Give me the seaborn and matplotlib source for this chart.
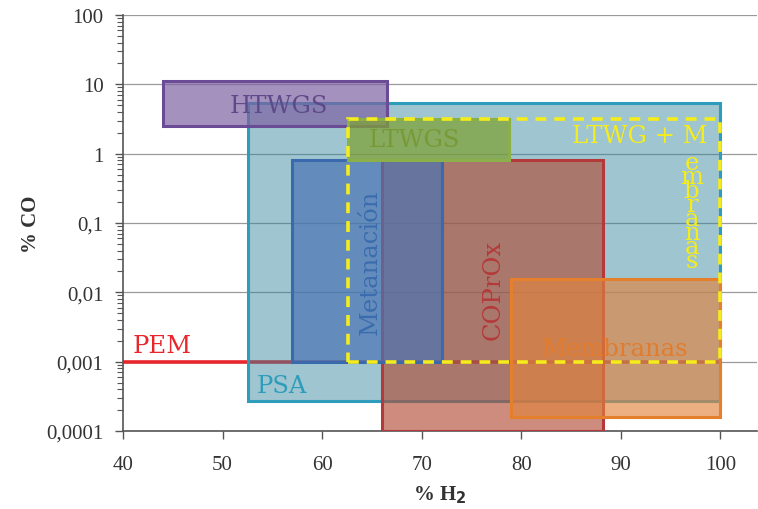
import matplotlib
matplotlib.use("Agg")
import matplotlib.pyplot as plt
import matplotlib.ticker as mticker
import seaborn as sns

# Operating windows of each purification technology: % H2 range and % CO range
names = ["PSA", "HTWGS", "COPrOx", "Metanación", "Membranas", "LTWGS"]
h2_low = [52.6, 44.0, 66.0, 57.0, 79.0, 62.6]
h2_high = [100.0, 66.5, 88.2, 72.0, 100.0, 78.8]
co_low = [0.00027, 2.5, 0.0001, 0.001, 0.00016, 0.82]
co_high = [5.3, 11.0, 0.8, 0.8, 0.0155, 3.2]

# Combined LTWGS + membrane window
combo_h2 = [62.6, 100.0]
combo_co = [0.001, 3.2]

# PEM fuel-cell CO tolerance
pem_co = 0.001
pem_h2 = [40.0, 100.0]

y_ticks = [0.0001, 0.001, 0.01, 0.1, 1, 10, 100]
y_tick_labels = ["0,0001", "0,001", "0,01", "0,1", "1", "10", "100"]
x_ticks = [40, 50, 60, 70, 80, 90, 100]

fills = {
    "PSA": "#31859c",
    "HTWGS": "#7e62a2",
    "Metanación": "#4a74b4",
    "COPrOx": "#b24e37",
    "Membranas": "#e1843f",
    "LTWGS": "#7fa138",
}
edges = {
    "PSA": "#2e9cbb",
    "HTWGS": "#6a4c96",
    "Metanación": "#3a6aad",
    "COPrOx": "#b3393a",
    "Membranas": "#e57f2c",
    "LTWGS": "#8bb04a",
}
alphas = {
    "PSA": 0.47,
    "HTWGS": 0.7,
    "Metanación": 0.7,
    "COPrOx": 0.65,
    "Membranas": 0.65,
    "LTWGS": 0.75,
}
yellow = "#f5ec1c"

sns.set_style("white")
plt.rcParams["font.family"] = ["Liberation Serif", "DejaVu Serif"]

fig = plt.figure(figsize=(7.58, 5.10), dpi=100)
ax = fig.add_axes([0.1623, 0.153, 0.8367, 0.8157])
ax.set_yscale("log")
ax.set_xlim(40, 103.7)
ax.set_ylim(0.0001, 100)

for y in y_ticks:
    ax.axhline(y, color="#9a9a9a", lw=0.9, zorder=0)

for i, n in enumerate(names):
    ax.bar(h2_low[i], co_high[i] - co_low[i], bottom=co_low[i],
           width=h2_high[i] - h2_low[i], align="edge",
           color=fills[n], alpha=alphas[n], edgecolor="none", zorder=2 + i)
    ax.bar(h2_low[i], co_high[i] - co_low[i], bottom=co_low[i],
           width=h2_high[i] - h2_low[i], align="edge",
           facecolor="none", edgecolor=edges[n], lw=2.2, zorder=2 + i)

ax.plot(pem_h2, [pem_co, pem_co], color="#e8262c", lw=2.6, zorder=1.5)

ax.bar(combo_h2[0], combo_co[1] - combo_co[0], bottom=combo_co[0],
       width=combo_h2[1] - combo_h2[0], align="edge", facecolor="none",
       edgecolor=yellow, lw=2.6, linestyle=(0, (3, 2.2)), zorder=20)

lab = dict(fontsize=17.5, family="DejaVu Serif", zorder=21)
ax.text(55.6, 5.0, "HTWGS", color="#5e4a8a", ha="center", va="center", **lab)
ax.text(69.3, 1.6, "LTWGS", color="#789a36", ha="center", va="center", **lab)
ax.text(64.8, 0.028, "Metanación", color="#3b6cae", rotation=90,
        ha="center", va="center", **lab)
ax.text(77.2, 0.011, "COPrOx", color="#b4393a", rotation=90,
        ha="center", va="center", **lab)
ax.text(89.4, 0.00155, "Membranas", color="#e27c2c", ha="center", va="center", **lab)
ax.text(53.4, 0.00045, "PSA", color="#2e9cbb", ha="left", va="center", **lab)
ax.text(41.0, 0.0017, "PEM", color="#e8262c", ha="left", va="center", **lab)
ax.text(98.7, 1.85, "LTWG + M", color=yellow, ha="right", va="center", **lab)
ax.text(97.1, 1.1, "\n".join("embranas"), color=yellow, ha="center",
        va="top", linespacing=0.5, **lab)

ax.yaxis.set_major_locator(mticker.FixedLocator(y_ticks))
ax.yaxis.set_major_formatter(mticker.FixedFormatter(y_tick_labels))
ax.yaxis.set_minor_locator(mticker.LogLocator(base=10, subs=range(2, 10), numticks=20))
ax.yaxis.set_minor_formatter(mticker.NullFormatter())
ax.set_xticks(x_ticks)

ax.tick_params(axis="both", which="major", direction="out", length=6, width=1,
               color="#555555", labelsize=15, labelcolor="#333333")
ax.tick_params(axis="x", which="major", pad=11, bottom=True)
ax.tick_params(axis="y", which="major", pad=8, left=True)
ax.tick_params(axis="y", which="minor", direction="out", length=4, width=0.8,
               color="#555555", left=True)

for s in ["top", "right"]:
    ax.spines[s].set_visible(False)
for s in ["left", "bottom"]:
    ax.spines[s].set_color("#555555")
    ax.spines[s].set_linewidth(1.2)

ax.set_xlabel("% H$_\\mathbf{2}$", fontsize=15, fontweight="bold", color="#333333", labelpad=7)
ax.set_ylabel("% CO", fontsize=15, fontweight="bold", color="#333333", labelpad=4)

fig.savefig("out.png", dpi=100)
